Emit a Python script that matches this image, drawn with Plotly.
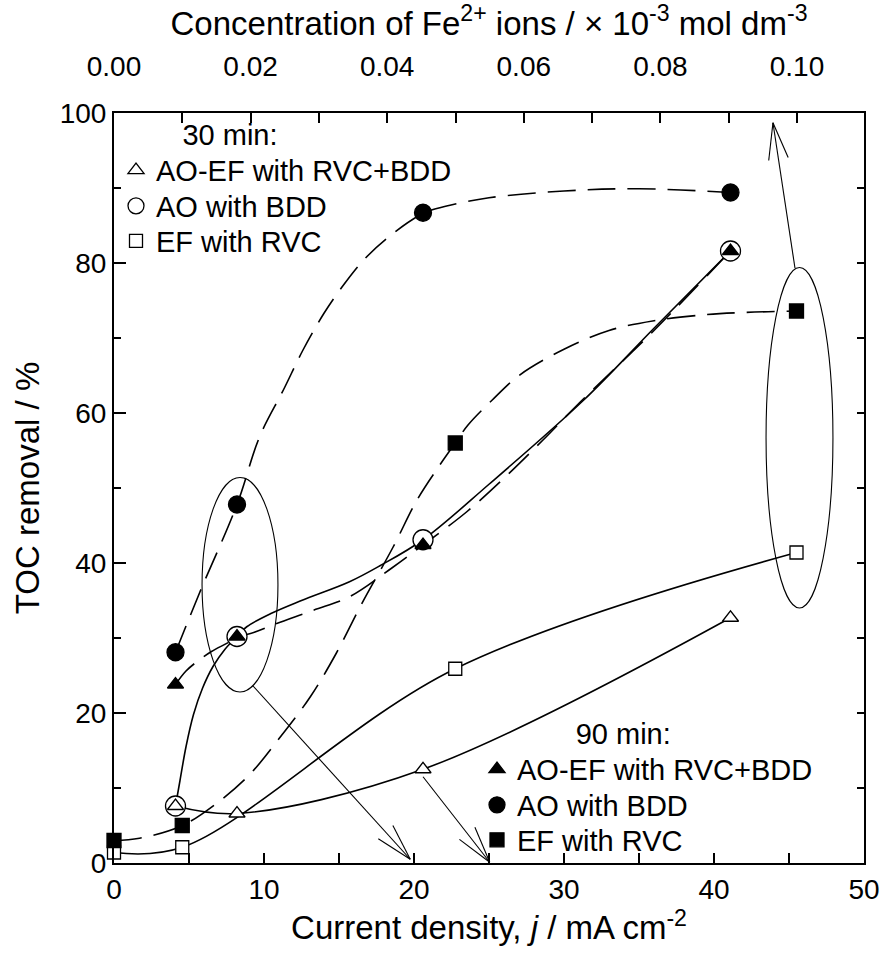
import math
import plotly.graph_objects as go

# ---------------- data ----------------
x_ao = [4.1, 8.2, 20.6, 41.1]                 # current density, mA cm-2
toc_ao_30 = [7.6, 30.2, 43.1, 81.6]           # AO with BDD, 30 min
toc_ao_90 = [28.1, 47.8, 86.7, 89.4]          # AO with BDD, 90 min
x_aoef = [4.1, 8.2, 20.6, 41.1]
toc_aoef_30 = [7.6, 6.6, 12.5, 32.7]          # AO-EF with RVC+BDD, 30 min
toc_aoef_90 = [23.8, 30.2, 42.4, 81.6]        # AO-EF with RVC+BDD, 90 min
x_ef = [0.0, 4.55, 22.75, 45.5]
toc_ef_30 = [1.4, 2.1, 25.9, 41.4]            # EF with RVC, 30 min
toc_ef_90 = [3.0, 5.0, 56.0, 73.6]            # EF with RVC, 90 min

# guide curves
fit_ao_30_x = [4.1, 4.4, 4.8, 5.3, 5.9, 6.6, 7.4, 8.2, 8.85, 10.5, 12.5, 15.7, 17.7, 20.6, 25.0, 31.3, 36.0, 41.1]
fit_ao_30_y = [7.6, 11.0, 15.5, 19.8, 23.3, 26.2, 28.5, 30.2, 31.5, 33.3, 35.0, 37.5, 39.6, 43.1, 50.5, 61.7, 71.3, 81.6]
fit_aoef_90_x = [4.1, 4.8, 5.7, 6.5, 7.7, 8.2, 9.1, 10.8, 13.3, 15.7, 18.5, 20.6, 23.5, 26.1, 28.6, 31.1, 36.0, 41.1]
fit_aoef_90_y = [23.8, 25.6, 27.1, 28.2, 29.5, 30.2, 30.6, 31.9, 33.7, 35.5, 39.3, 42.4, 46.8, 51.5, 56.4, 61.5, 71.0, 81.6]
fit_ao_90_x = [4.1, 5.7, 8.2, 9.7, 11.3, 12.6, 14.0, 15.2, 16.6, 18.2, 20.6, 22.4, 25.0, 30.0, 35.0, 41.1]
fit_ao_90_y = [28.1, 36.0, 47.8, 56.8, 63.1, 68.4, 73.3, 76.8, 80.3, 83.3, 86.6, 87.7, 88.7, 89.6, 89.9, 89.4]
fit_ef_90_x = [0.0, 1.7, 4.55, 6.8, 9.0, 11.2, 13.1, 14.8, 16.5, 18.6, 20.2, 21.8, 22.75, 23.6, 25.2, 27.0, 30.0, 33.0, 36.0, 39.4, 42.0, 45.5]
fit_ef_90_y = [3.0, 3.3, 5.0, 7.9, 11.7, 17.1, 22.2, 27.9, 34.5, 42.1, 48.4, 53.3, 56.0, 58.4, 61.7, 65.0, 68.5, 71.0, 72.3, 73.1, 73.4, 73.6]

# annotation geometry (data coordinates)
ellipses = [(5.87, 22.8, 10.93, 51.4), (43.47, 34.0, 47.93, 79.4)]
arrows = [((9.27, 23.6), (19.75, 0.5)),
          ((20.6, 11.5), (25.05, 0.1)),
          ((45.4, 79.3), (43.93, 98.7))]

# ---------------- layout constants ----------------
W, H = 884, 963
ML, MR, MT, MB = 114, 20, 113, 100
PW, PH = W - ML - MR, H - MT - MB
XR = [0, 50]
YR = [0, 100]
FE_MAX = 0.10 / ((797 - ML) / PW)
FONT = "Liberation Sans, Arial, sans-serif"
FS = 28      # tick labels
FT = 33      # axis titles
FL = 29      # legend texts
DASH = "28px,12px"
LW = 1.6

fig = go.Figure()

# smoothed curves
curves = [
    (fit_ao_30_x, fit_ao_30_y, "solid"),
    (x_aoef, toc_aoef_30, "solid"),
    (x_ef, toc_ef_30, "solid"),
    (fit_ao_90_x, fit_ao_90_y, DASH),
    (fit_aoef_90_x, fit_aoef_90_y, DASH),
    (fit_ef_90_x, fit_ef_90_y, DASH),
]
for xs, ys, dash in curves:
    fig.add_trace(go.Scatter(x=xs, y=ys, mode="lines",
                             line=dict(color="black", width=LW, dash=dash,
                                       shape="spline", smoothing=1.0),
                             showlegend=False, hoverinfo="skip"))

# markers; each legend row is its own small legend so rows sit where the reference has them
markers = [
    (x_ao, toc_ao_30, "circle", "white", 20, "AO with BDD", "legend3"),
    (x_ao, toc_ao_90, "circle", "black", 17, "AO with BDD", "legend5"),
    (x_ef, toc_ef_30, "square", "white", 13, "EF with RVC", "legend4"),
    (x_ef, toc_ef_90, "square", "black", 14, "EF with RVC", "legend6"),
    (x_aoef, toc_aoef_30, "triangle-up", "white", 14, "AO-EF with RVC+BDD", "legend"),
    (x_aoef, toc_aoef_90, "triangle-up", "black", 14, "AO-EF with RVC+BDD", "legend2"),
]
for xs, ys, sym, fill, size, name, leg in markers:
    fig.add_trace(go.Scatter(x=xs, y=ys, mode="markers", name=name, legend=leg,
                             marker=dict(symbol=sym, color=fill, size=size,
                                         line=dict(color="black", width=1.3)),
                             cliponaxis=False))

# invisible traces to activate the top and right axes
fig.add_trace(go.Scatter(x=[0.0, 0.1], y=[None, None], xaxis="x2", yaxis="y",
                         showlegend=False, hoverinfo="skip"))
fig.add_trace(go.Scatter(x=[None, None], y=[0, 100], xaxis="x", yaxis="y2",
                         showlegend=False, hoverinfo="skip"))

# ellipses
shapes = []
for x0, y0, x1, y1 in ellipses:
    shapes.append(dict(type="circle", xref="x", yref="y", x0=x0, y0=y0, x1=x1, y1=y1,
                       line=dict(color="black", width=1.1), layer="above"))

# arrows with open V heads
sx = PW / (XR[1] - XR[0])
sy = PH / (YR[1] - YR[0])
HEAD = 38
HALF = math.radians(15)
for (x0, y0), (x1, y1) in arrows:
    shapes.append(dict(type="line", xref="x", yref="y", x0=x0, y0=y0, x1=x1, y1=y1,
                       line=dict(color="black", width=1.1), layer="above"))
    ang = math.atan2((y1 - y0) * sy, (x1 - x0) * sx)
    for s in (1, -1):
        a = ang + math.pi + s * HALF
        wx = x1 + HEAD * math.cos(a) / sx
        wy = y1 + HEAD * math.sin(a) / sy
        shapes.append(dict(type="line", xref="x", yref="y", x0=x1, y0=y1, x1=wx, y1=wy,
                           line=dict(color="black", width=1.1), layer="above"))

axis_common = dict(showgrid=False, zeroline=False, showline=True, linecolor="black",
                   linewidth=2, ticks="inside", tickcolor="black", tickwidth=1.5,
                   tickfont=dict(family=FONT, size=FS, color="black"))

leg_common = dict(xanchor="left", bgcolor="rgba(0,0,0,0)", borderwidth=0,
                  tracegroupgap=0, font=dict(family=FONT, size=FL))
LX_TOP, LX_BOT = (116 - ML) / PW, (477 - ML) / PW


def row_y(py):
    return (MT + PH - py) / PH


fig.update_layout(
    width=W, height=H,
    margin=dict(l=ML, r=MR, t=MT, b=MB, pad=0, autoexpand=False),
    paper_bgcolor="white", plot_bgcolor="white",
    font=dict(family=FONT, size=FS, color="black"),
    shapes=shapes,
    xaxis=dict(**axis_common, range=XR, dtick=10, ticklen=10,
               minor=dict(dtick=5, ticks="inside", ticklen=10, tickcolor="black", tickwidth=1.5),
               title=dict(text="Current density, <i>j</i> / mA cm<sup>-2</sup>",
                          font=dict(family=FONT, size=FT), standoff=10)),
    xaxis2=dict(**axis_common, range=[0, FE_MAX], overlaying="x", side="top",
                tick0=0, dtick=0.02, tickformat=".2f", ticklen=10, ticklabelstandoff=24,
                minor=dict(dtick=0.01, ticks="inside", ticklen=10, tickcolor="black", tickwidth=1.5),
                title=dict(text="Concentration of Fe<sup>2+</sup> ions / × 10<sup>-3</sup> mol dm<sup>-3</sup>",
                           font=dict(family=FONT, size=FT), standoff=8)),
    yaxis=dict(**axis_common, range=YR, dtick=20, ticklen=12,
               minor=dict(dtick=10, ticks="inside", ticklen=7, tickcolor="black", tickwidth=1.5),
               title=dict(text="TOC removal / %", font=dict(family=FONT, size=FT), standoff=10)),
    yaxis2=dict(**axis_common, range=YR, overlaying="y", side="right", dtick=10,
                ticklen=7, showticklabels=False),
    legend=dict(**leg_common, x=LX_TOP, y=row_y(107), yanchor="top",
                title=dict(text="&nbsp;" * 8 + "30 min:", font=dict(family=FONT, size=FL))),
    legend3=dict(**leg_common, x=LX_TOP, y=row_y(206), yanchor="middle"),
    legend4=dict(**leg_common, x=LX_TOP, y=row_y(241), yanchor="middle"),
    legend2=dict(**leg_common, x=LX_BOT, y=row_y(706), yanchor="top",
                 title=dict(text="&nbsp;" * 12 + "90 min:", font=dict(family=FONT, size=FL))),
    legend5=dict(**leg_common, x=LX_BOT, y=row_y(805), yanchor="middle"),
    legend6=dict(**leg_common, x=LX_BOT, y=row_y(840), yanchor="middle"),
)

fig.write_html("out.html")
